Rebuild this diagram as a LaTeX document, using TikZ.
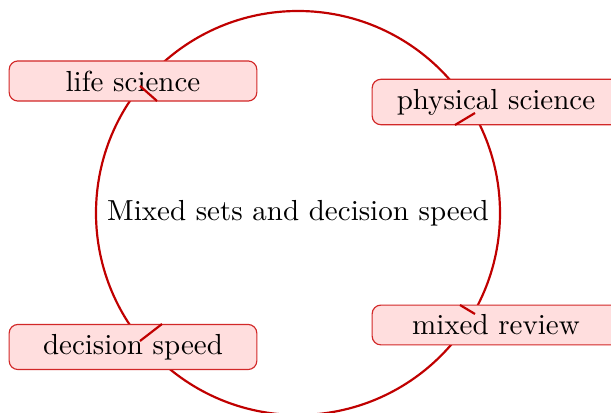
\documentclass[tikz,border=0pt]{standalone}
\usetikzlibrary{calc}
\definecolor{cred}{RGB}{192,0,0}
\definecolor{bfill}{RGB}{255,222,222}
\definecolor{bdraw}{RGB}{210,40,40}
\begin{document}
\begin{tikzpicture}[x=0.3448pt,y=-0.3448pt,
  hub/.style={circle,draw=cred,line width=0.75pt,minimum size=139.3pt,inner sep=0pt},
  topic/.style={draw=bdraw,fill=bfill,rounded corners=3pt,line width=0.4pt,minimum width=85.4pt,inner sep=3.33pt},
  link/.style={draw=cred,line width=0.75pt}]
\useasboundingbox (0,0) rectangle (611,413);
\node[hub] (c) at (298,213) {Mixed sets and decision speed};
\node[topic] (ls) at (133,81) {life science};
\node[topic] (ps) at (496,102) {physical science};
\node[topic] (ds) at (133,347) {decision speed};
\node[topic] (mr) at (496,325) {mixed review};
\coordinate (ls1) at (140,86);  \coordinate (ls2) at (157,101);
\coordinate (ps1) at (475,113); \coordinate (ps2) at (455,125);
\coordinate (ds1) at (140,341); \coordinate (ds2) at (162,324);
\coordinate (mr1) at (475,314); \coordinate (mr2) at (460,305);
\draw[link] (ls1) -- (ls2);
\draw[link] (ps1) -- (ps2);
\draw[link] (ds1) -- (ds2);
\draw[link] (mr1) -- (mr2);
\end{tikzpicture}
\end{document}
